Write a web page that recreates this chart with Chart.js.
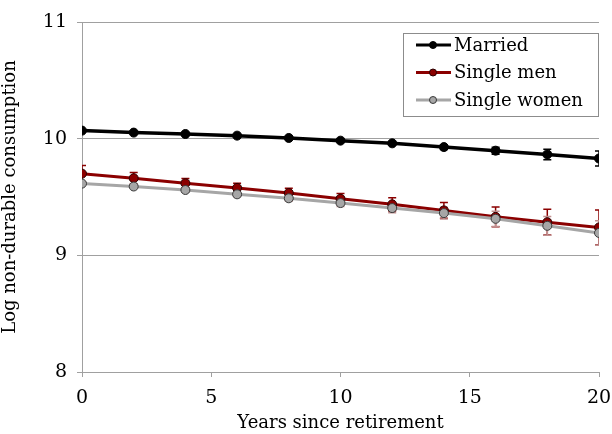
<!DOCTYPE html>
<html>
<head>
<meta charset="utf-8">
<script src="https://cdn.jsdelivr.net/npm/chart.js@4"></script>
<style>
  html, body { margin: 0; padding: 0; background: #fff; }
  #wrap { width: 612px; height: 434px; }
</style>
</head>
<body>
<div id="wrap"><canvas id="c" width="612" height="434"></canvas></div>
<script>
// Years since retirement
const years = [0, 2, 4, 6, 8, 10, 12, 14, 16, 18, 20];

// Mean log non-durable consumption by household type
const married      = [10.069, 10.052, 10.040, 10.026, 10.006, 9.983, 9.960, 9.928, 9.897, 9.865, 9.830];
const singleMen    = [9.700, 9.661, 9.618, 9.578, 9.534, 9.485, 9.437, 9.385, 9.330, 9.284, 9.239];
const singleWomen  = [9.615, 9.590, 9.560, 9.523, 9.489, 9.448, 9.405, 9.362, 9.313, 9.253, 9.192];

// Half-widths of the confidence intervals
const marriedErr     = [0.010, 0.010, 0.010, 0.010, 0.010, 0.012, 0.015, 0.020, 0.030, 0.045, 0.065];
const singleMenErr   = [0.070, 0.050, 0.040, 0.040, 0.040, 0.045, 0.057, 0.067, 0.085, 0.110, 0.150];
const singleWomenErr = [0.010, 0.015, 0.020, 0.020, 0.025, 0.030, 0.040, 0.050, 0.065, 0.080, 0.105];

const seriesNames = ['Married', 'Single men', 'Single women'];
const xTicks = [0, 5, 10, 15, 20];
const yTicks = [8, 9, 10, 11];

const FONT = "'DejaVu Serif', 'Liberation Serif', serif";

const styles = [
  { line: '#000000', fill: '#000000', border: '#000000', err: '#000000', width: 3.5, order: 2 },
  { line: '#8b0000', fill: '#8b0000', border: '#2a0000', err: '#8b0000', width: 3, order: 1 },
  { line: '#a6a6a6', fill: '#a6a6a6', border: '#3a3a3a', err: '#c09090', width: 3, order: 0 }
];
const values = [married, singleMen, singleWomen];
const errors = [marriedErr, singleMenErr, singleWomenErr];

const datasets = values.map((vals, i) => ({
  label: seriesNames[i],
  data: years.map((x, j) => ({ x: x, y: vals[j] })),
  errors: errors[i],
  borderColor: styles[i].line,
  backgroundColor: styles[i].fill,
  pointBackgroundColor: styles[i].fill,
  pointBorderColor: styles[i].border,
  pointBorderWidth: 1,
  pointRadius: 4.5,
  borderWidth: styles[i].width,
  tension: 0,
  order: styles[i].order,
  errColor: styles[i].err
}));

// Vertical error bars with caps, clipped to the plot area
const errorBars = {
  id: 'errorBars',
  beforeDatasetsDraw(chart) {
    const { ctx, chartArea, scales } = chart;
    ctx.save();
    ctx.beginPath();
    ctx.rect(chartArea.left, chartArea.top, chartArea.right - chartArea.left, chartArea.bottom - chartArea.top);
    ctx.clip();
    chart.data.datasets.forEach(ds => {
      ctx.strokeStyle = ds.errColor;
      ctx.lineWidth = 1.5;
      ds.data.forEach((p, j) => {
        const e = ds.errors[j];
        const px = scales.x.getPixelForValue(p.x);
        const top = scales.y.getPixelForValue(p.y + e);
        const bot = scales.y.getPixelForValue(p.y - e);
        ctx.beginPath();
        ctx.moveTo(px, top); ctx.lineTo(px, bot);
        ctx.moveTo(px - 4, top); ctx.lineTo(px + 4, top);
        ctx.moveTo(px - 4, bot); ctx.lineTo(px + 4, bot);
        ctx.stroke();
      });
    });
    ctx.restore();
  }
};

// Boxed legend inside the upper right of the plot
const boxLegend = {
  id: 'boxLegend',
  afterDraw(chart) {
    const { ctx, chartArea } = chart;
    const w = 195, h = 83;
    const x0 = chartArea.right - w - 1, y0 = chartArea.top + 11;
    ctx.save();
    ctx.fillStyle = '#ffffff';
    ctx.fillRect(x0, y0, w, h);
    ctx.strokeStyle = '#8c8c8c';
    ctx.lineWidth = 1;
    ctx.strokeRect(x0 + 0.5, y0 + 0.5, w, h);
    ctx.font = '18px ' + FONT;
    ctx.textBaseline = 'middle';
    chart.data.datasets.forEach((ds, i) => {
      const cy = y0 + 12 + i * 27.5;
      ctx.strokeStyle = ds.borderColor;
      ctx.lineWidth = 3;
      ctx.beginPath();
      ctx.moveTo(x0 + 13, cy); ctx.lineTo(x0 + 48, cy);
      ctx.stroke();
      ctx.beginPath();
      ctx.arc(x0 + 30, cy, 3.5, 0, Math.PI * 2);
      ctx.fillStyle = ds.pointBackgroundColor;
      ctx.fill();
      ctx.lineWidth = 1;
      ctx.strokeStyle = ds.pointBorderColor;
      ctx.stroke();
      ctx.fillStyle = '#000000';
      ctx.fillText(ds.label, x0 + 51, cy + 1);
    });
    ctx.restore();
  }
};

new Chart(document.getElementById('c'), {
  type: 'line',
  data: { datasets: datasets },
  plugins: [errorBars, boxLegend],
  options: {
    responsive: false,
    animation: false,
    layout: { padding: { top: 22, right: 0, left: 0, bottom: 0 } },
    plugins: { legend: { display: false }, tooltip: { enabled: false } },
    scales: {
      x: {
        type: 'linear',
        min: 0, max: 20,
        afterBuildTicks(axis) { axis.ticks = xTicks.map(v => ({ value: v })); },
        afterFit(axis) { axis.height = 62; axis.paddingRight = 13; axis.paddingLeft = 0; },
        grid: { drawOnChartArea: false, drawTicks: true, tickLength: 5, color: '#a0a0a0' },
        border: { color: '#a0a0a0', width: 1 },
        ticks: { color: '#000', font: { family: FONT, size: 19 }, padding: 10, maxRotation: 0 },
        title: { display: true, text: 'Years since retirement', color: '#000', font: { family: FONT, size: 18 }, padding: { top: 0, bottom: 0 } }
      },
      y: {
        type: 'linear',
        min: 8, max: 11,
        afterBuildTicks(axis) { axis.ticks = yTicks.map(v => ({ value: v })); },
        afterFit(axis) { axis.width = 82; axis.paddingTop = 0; axis.paddingBottom = 0; },
        grid: { color: '#a0a0a0', lineWidth: 1, tickLength: 5 },
        border: { color: '#a0a0a0', width: 1 },
        ticks: { color: '#000', font: { family: FONT, size: 19 }, padding: 10 },
        title: { display: true, text: 'Log non-durable consumption', color: '#000', font: { family: FONT, size: 18 }, padding: { top: 0, bottom: 4 } }
      }
    }
  }
});
</script>
</body>
</html>
